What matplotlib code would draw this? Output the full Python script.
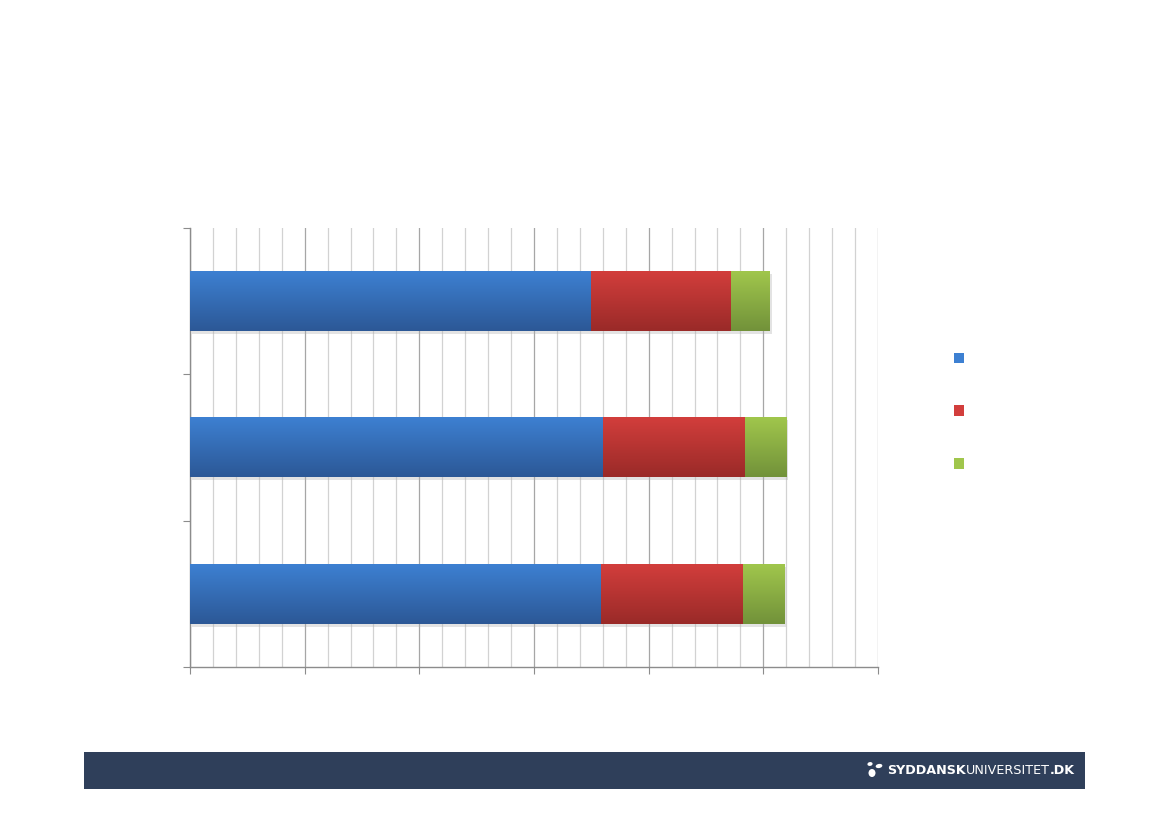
import numpy as np
import matplotlib
matplotlib.use("Agg")
import matplotlib.pyplot as plt
from matplotlib.colors import LinearSegmentedColormap
from matplotlib.patches import Rectangle, Ellipse
from matplotlib.ticker import MultipleLocator
import matplotlib.patheffects as pe

# data (rows top to bottom)
rows = [0, 1, 2]
series_blue = [17.5, 18.0, 17.9]
series_red = [6.1, 6.2, 6.2]
series_green = [1.7, 1.8, 1.8]

# gradient colours: (light top, dark bottom)
shades = [("#3d80d2", "#2c5896"),
          ("#d23e3c", "#9a2a28"),
          ("#a0c64c", "#72923a")]

fig = plt.figure(figsize=(11.69, 8.27), dpi=100)
ax = fig.add_axes([190 / 1169, 1 - 667 / 827, 688 / 1169, 439 / 827])

ypos = [2 - r for r in rows]  # first row on top
left = np.zeros(len(rows))
bars = []
for vals, (c_top, c_bot) in zip([series_blue, series_red, series_green], shades):
    b = ax.barh(ypos, vals, left=left, height=0.41, color=c_bot, linewidth=0, zorder=3,
                path_effects=[pe.SimplePatchShadow(offset=(1.5, -2), shadow_rgbFace="#b0b0b0", alpha=0.35),
                              pe.Normal()])
    cmap = LinearSegmentedColormap.from_list("g", [c_top, c_bot])
    for rect in b:
        x, y, w, h = rect.get_x(), rect.get_y(), rect.get_width(), rect.get_height()
        grad = np.linspace(0, 1, 64).reshape(-1, 1)
        ax.imshow(grad, extent=(x, x + w, y, y + h), origin="upper", cmap=cmap,
                  aspect="auto", zorder=4, interpolation="bilinear")
    bars.append(b)
    left = left + np.array(vals)

ax.set_xlim(0, 30)
ax.set_ylim(-0.5, 2.5)
ax.xaxis.set_major_locator(MultipleLocator(5))
ax.xaxis.set_minor_locator(MultipleLocator(1))
ax.set_yticks([-0.5, 0.5, 1.5, 2.5])
ax.tick_params(axis="x", which="major", length=5, color="#8c8c8c", labelbottom=False)
ax.tick_params(axis="x", which="minor", length=0)
ax.tick_params(axis="y", length=5, color="#8c8c8c", labelleft=False)
ax.grid(axis="x", which="major", color="#a6a6a6", linewidth=0.9, zorder=0)
ax.grid(axis="x", which="minor", color="#d2d2d2", linewidth=0.9, zorder=0)
ax.set_axisbelow(True)
for s in ["top", "right"]:
    ax.spines[s].set_visible(False)
for s in ["left", "bottom"]:
    ax.spines[s].set_color("#8c8c8c")
    ax.spines[s].set_linewidth(1.0)

# legend: markers only, no text in the source
handles = [Rectangle((0, 0), 1, 1, facecolor=c[0], edgecolor="none") for c in shades]
fig.legend(handles, ["", "", ""], loc="upper left", bbox_to_anchor=(941 / 1169, 1 - 339 / 827),
           frameon=False, handlelength=0.75, handleheight=0.75, labelspacing=2.8,
           handletextpad=0.2, fontsize=10)

# footer banner
fig.patches.append(Rectangle((84 / 1169, 1 - 789 / 827), 1001 / 1169, 37 / 827,
                             transform=fig.transFigure, facecolor="#2f3f5a", edgecolor="none"))
# small leaf mark
for (cx, cy, w, h, ang) in [(872, 773, 7, 8, 0), (879, 766, 7, 4, 30), (870, 764, 5, 4, -30)]:
    fig.patches.append(Ellipse((cx / 1169, 1 - cy / 827), w / 1169, h / 827, angle=ang,
                               transform=fig.transFigure, facecolor="white", edgecolor="none"))

fig.canvas.draw()
r = fig.canvas.get_renderer()
x = 887 / 1169
ty = 1 - 771 / 827
for txt, wt in [("SYDDANSK", "bold"), ("UNIVERSITET", "normal"), (".DK", "bold")]:
    t = fig.text(x, ty, txt, color="white", fontsize=9.2, fontweight=wt, va="center", ha="left",
                 family="DejaVu Sans")
    bb = t.get_window_extent(renderer=r)
    x = x + bb.width / fig.bbox.width

fig.savefig("out.png", dpi=100)
